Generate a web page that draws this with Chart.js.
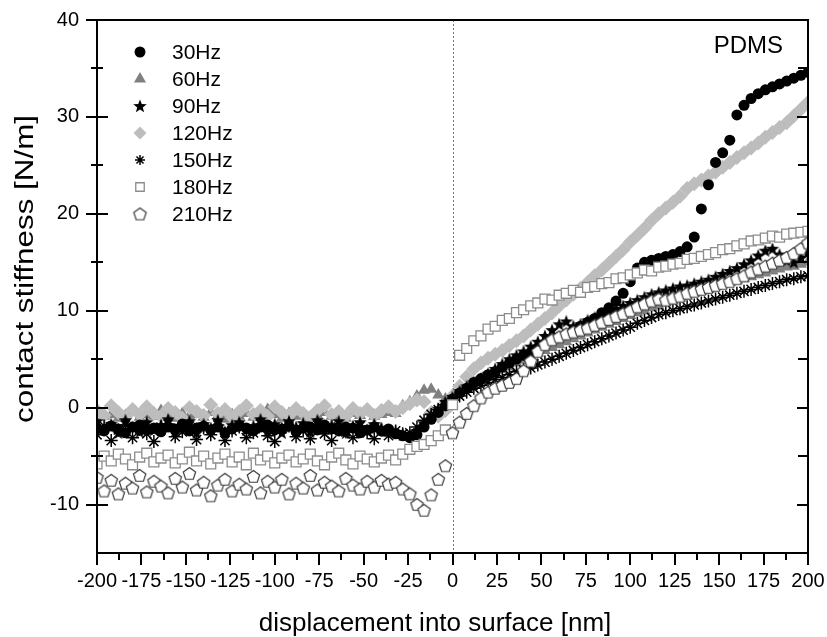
<!DOCTYPE html>
<html>
<head>
<meta charset="utf-8">
<script src="https://cdn.jsdelivr.net/npm/chart.js@4.4.0/dist/chart.umd.min.js"></script>
<style>
  html, body { margin: 0; padding: 0; background: #fff; }
  #wrap { width: 827px; height: 637px; position: relative; }
</style>
</head>
<body>
<div id="wrap"><canvas id="chart"></canvas></div>
<script>
// displacement into surface [nm]
const xs = [
  -200,-196,-192,-188,-184,-180,-176,-172,-168,-164,
  -160,-156,-152,-148,-144,-140,-136,-132,-128,-124,
  -120,-116,-112,-108,-104,-100,-96,-92,-88,-84,
  -80,-76,-72,-68,-64,-60,-56,-52,-48,-44,
  -40,-36,-32,-28,-24,-20,-16,-12,-8,-4,
  0,4,8,12,16,20,24,28,32,36,
  40,44,48,52,56,60,64,68,72,76,
  80,84,88,92,96,100,104,108,112,116,
  120,124,128,132,136,140,144,148,152,156,
  160,164,168,172,176,180,184,188,192,196,
  200
];

// contact stiffness [N/m] per frequency
const hz30 = [
  -2.1,-2.4,-1.9,-2.2,-2.6,-2.0,-1.8,-2.3,-2.1,-2.5,
  -2.0,-2.2,-1.7,-2.4,-2.1,-1.9,-2.3,-2.0,-2.6,-2.2,
  -1.9,-2.1,-2.4,-2.0,-1.8,-2.3,-2.2,-1.9,-2.5,-2.1,
  -2.0,-2.3,-1.8,-2.2,-2.4,-2.0,-2.1,-2.6,-2.3,-2.0,
  -2.4,-2.2,-2.7,-2.9,-3.1,-2.8,-2.0,-1.2,-0.5,0.2,
  0.9,1.5,2.0,2.6,3.0,3.4,3.7,4.2,4.6,5.0,
  5.4,5.7,6.2,6.6,7.0,7.3,7.6,8.0,8.4,8.8,
  9.2,9.8,10.3,11.0,11.8,13.0,14.4,15.0,15.2,15.4,
  15.6,15.8,16.1,16.6,17.6,20.5,23.0,25.3,26.3,27.6,
  30.2,31.2,31.9,32.4,32.8,33.1,33.4,33.7,34.0,34.3,
  34.6
];
const hz60 = [
  -0.5,-0.9,-0.7,-1.1,-0.8,-0.4,-1.0,-0.7,-0.9,-0.3,
  -0.8,-1.1,-0.6,-0.9,-0.7,-1.0,-0.5,-0.8,-1.2,-0.7,
  -0.9,-0.6,-1.0,-0.8,-0.2,-0.7,-1.1,-0.6,-0.9,-0.7,
  -1.0,-0.8,-0.5,-0.9,-0.7,-1.1,-0.6,-0.8,-0.4,-0.9,
  -0.7,-0.5,-0.6,0.2,0.6,1.2,1.8,1.9,1.3,0.9,
  1.3,1.6,2.0,2.4,2.8,3.1,3.5,3.9,4.2,4.6,
  4.9,5.2,5.6,5.9,6.2,6.5,6.8,7.1,7.4,7.7,
  8.0,8.3,8.6,8.9,9.2,9.5,9.8,10.0,10.3,10.5,
  10.8,11.0,11.3,11.5,11.8,12.0,12.2,12.5,12.7,12.9,
  13.1,13.3,13.5,13.7,13.9,14.1,14.3,14.5,14.6,14.8,
  15.0
];
const hz90 = [
  -1.4,-2.2,-1.7,-2.6,-1.3,-2.0,-2.5,-1.5,-2.3,-1.8,
  -1.2,-2.4,-1.9,-1.4,-2.6,-1.7,-2.1,-1.3,-2.5,-1.8,
  -1.5,-2.3,-1.9,-1.2,-2.4,-1.7,-2.6,-1.4,-2.0,-1.6,
  -2.5,-1.3,-2.2,-1.8,-1.4,-2.6,-1.9,-1.5,-2.3,-1.7,
  -2.1,-2.4,-2.5,-2.8,-2.9,-2.4,-1.6,-0.8,-0.1,0.6,
  1.1,1.7,2.2,2.6,3.0,3.5,4.0,4.5,5.0,5.4,
  5.8,6.3,6.8,7.4,8.0,8.6,8.9,8.4,8.6,9.0,
  9.3,9.6,9.9,10.2,10.5,10.8,11.1,11.4,11.7,11.9,
  12.1,12.3,12.5,12.6,12.8,13.0,13.2,13.5,13.8,14.1,
  14.4,14.8,15.2,15.7,16.2,16.4,15.8,15.2,15.0,15.5,
  16.0
];
const hz120 = [
  -0.3,-0.8,0.2,-0.5,-1.0,-0.2,-0.7,0.1,-0.6,-0.9,
  -0.1,-0.5,-1.1,0.0,-0.4,-0.8,0.3,-0.6,-0.2,-1.0,
  -0.4,0.2,-0.7,-0.3,-0.9,0.1,-0.5,-0.8,-0.1,-0.6,
  -1.0,-0.3,0.2,-0.7,-0.4,-0.9,-0.1,-0.6,-0.2,-0.8,
  -0.3,0.1,-0.4,0.0,0.4,0.8,0.6,-0.5,-0.9,-0.3,
  1.2,2.2,3.2,4.0,4.6,5.1,5.5,5.9,6.4,6.9,
  7.4,8.0,8.6,9.2,9.8,10.5,11.1,11.7,12.3,12.9,
  13.6,14.2,14.9,15.6,16.3,17.1,17.8,18.5,19.3,20.0,
  20.6,21.2,21.8,22.6,23.1,23.5,23.9,24.3,24.8,25.3,
  25.8,26.3,26.8,27.3,27.9,28.4,28.9,29.4,30.1,30.8,
  31.5
];
const hz150 = [
  -2.8,-1.9,-3.4,-2.3,-1.8,-3.1,-2.2,-2.7,-3.5,-2.0,
  -1.7,-3.0,-2.5,-1.9,-3.3,-2.1,-2.8,-1.8,-3.4,-2.4,
  -2.0,-3.1,-2.6,-1.7,-2.9,-3.5,-2.2,-1.9,-3.0,-2.4,
  -3.2,-1.8,-2.7,-3.4,-2.0,-2.5,-3.1,-1.9,-2.6,-3.2,
  -2.3,-2.9,-2.4,-2.7,-2.6,-2.0,-1.3,-0.7,-0.2,0.3,
  0.8,1.2,1.6,2.0,2.3,2.6,2.9,3.1,3.4,3.7,
  3.9,4.1,4.4,4.7,5.0,5.3,5.6,5.9,6.2,6.5,
  6.8,7.1,7.4,7.7,8.0,8.3,8.7,9.0,9.3,9.6,
  9.8,10.0,10.2,10.4,10.6,10.8,11.0,11.2,11.4,11.6,
  11.8,12.0,12.2,12.4,12.6,12.8,13.0,13.2,13.3,13.5,
  13.6
];
const hz180 = [
  -5.8,-5.0,-5.5,-4.8,-5.3,-5.9,-5.1,-4.7,-5.6,-5.2,
  -4.9,-5.7,-5.3,-4.6,-5.5,-5.0,-5.8,-5.2,-4.8,-5.6,
  -5.1,-5.9,-4.7,-5.4,-5.0,-5.7,-5.2,-4.9,-5.6,-5.3,
  -4.8,-5.5,-5.9,-5.1,-4.7,-5.4,-5.8,-5.0,-5.3,-5.6,
  -5.2,-4.9,-5.4,-4.8,-4.3,-4.0,-3.8,-3.4,-2.9,-2.3,
  0.3,5.4,6.1,6.9,7.4,8.1,8.4,9.0,9.2,9.8,
  10.1,10.5,10.8,11.2,11.1,11.6,11.8,12.1,11.9,12.4,
  12.5,12.8,12.9,13.3,13.4,13.7,13.9,14.2,14.1,14.5,
  14.6,14.8,14.9,15.3,15.4,15.6,15.8,16.0,16.3,16.4,
  16.7,16.9,17.2,17.3,17.5,17.7,17.6,17.9,18.0,18.1,
  18.2
];
const hz210 = [
  -7.2,-8.6,-7.5,-8.9,-7.8,-8.3,-7.0,-8.7,-7.6,-8.1,
  -8.8,-7.3,-8.2,-6.8,-8.5,-7.7,-9.1,-8.0,-7.4,-8.6,
  -7.9,-8.4,-7.1,-8.8,-7.6,-8.2,-7.4,-8.9,-7.8,-8.3,
  -7.0,-8.5,-7.7,-8.1,-8.6,-7.3,-8.0,-8.4,-7.6,-8.2,
  -7.5,-7.9,-7.7,-8.4,-8.9,-10.0,-10.6,-9.0,-7.4,-6.0,
  -2.6,-1.5,-0.6,0.2,1.0,1.6,2.0,2.3,2.6,3.0,
  3.8,4.8,5.8,6.5,7.0,7.3,7.6,7.8,8.0,8.2,
  8.5,8.8,9.1,9.4,9.7,10.0,10.4,10.7,11.0,11.2,
  11.1,11.3,11.5,11.8,12.0,12.2,12.4,12.6,12.8,13.0,
  13.3,13.6,14.0,14.3,14.6,14.9,15.2,15.5,15.9,16.4,
  17.0
];

const labels = ['30Hz', '60Hz', '90Hz', '120Hz', '150Hz', '180Hz', '210Hz'];
const xTicks = [-200,-175,-150,-125,-100,-75,-50,-25,0,25,50,75,100,125,150,175,200];
const yTicks = [-10, 0, 10, 20, 30, 40];
const yMinor = [-5, 5, 15, 25, 35];
const xTitle = 'displacement into surface [nm]';
const yTitle = 'contact stiffness [N/m]';
const sample = 'PDMS';

const FONT = '"Liberation Sans", Arial, sans-serif';

// filled 5-point star for 90Hz
function makeStar(r) {
    const s = Math.ceil(2 * r + 2);
    const c = document.createElement('canvas');
    c.width = s; c.height = s;
    const g = c.getContext('2d');
    g.beginPath();
    for (let k = 0; k < 10; k++) {
        const a = -Math.PI / 2 + k * Math.PI / 5;
        const rr = k % 2 === 0 ? r : r * 0.42;
        const px = s / 2 + rr * Math.cos(a), py = s / 2 + 0.5 + rr * Math.sin(a);
        if (k === 0) g.moveTo(px, py); else g.lineTo(px, py);
    }
    g.closePath();
    g.fillStyle = '#000';
    g.fill();
    return c;
}

// open pentagon for 210Hz
function makePentagon(r) {
    const s = Math.ceil(2 * r + 4);
    const c = document.createElement('canvas');
    c.width = s; c.height = s;
    const g = c.getContext('2d');
    g.beginPath();
    for (let k = 0; k < 5; k++) {
        const a = -Math.PI / 2 + k * 2 * Math.PI / 5;
        const px = s / 2 + r * Math.cos(a), py = s / 2 + r * Math.sin(a) + 0.5;
        if (k === 0) g.moveTo(px, py); else g.lineTo(px, py);
    }
    g.closePath();
    g.fillStyle = '#fff';
    g.fill();
    g.lineWidth = 1.2;
    g.strokeStyle = '#3a3a3a';
    g.stroke();
    return c;
}

const starImg = makeStar(7);
const pentImg = makePentagon(6.5);
const pts = arr => xs.map((x, i) => ({ x: x, y: arr[i] }));

// order: lower number is drawn on top
const datasets = [
    { label: labels[0], data: pts(hz30), pointStyle: 'circle', pointRadius: 5.5, backgroundColor: '#000', borderColor: '#000', borderWidth: 0, order: 4 },
    { label: labels[1], data: pts(hz60), pointStyle: 'triangle', pointRadius: 7, backgroundColor: '#808080', borderColor: '#808080', borderWidth: 0, order: 6 },
    { label: labels[2], data: pts(hz90), pointStyle: starImg, pointRadius: 6, backgroundColor: '#000', borderColor: '#000', borderWidth: 0, order: 3 },
    { label: labels[3], data: pts(hz120), pointStyle: 'rectRot', pointRadius: 7.5, backgroundColor: '#bdbdbd', borderColor: '#bdbdbd', borderWidth: 0, order: 5 },
    { label: labels[4], data: pts(hz150), pointStyle: 'star', pointRadius: 6.5, backgroundColor: '#000', borderColor: '#000', borderWidth: 1.5, order: 2 },
    { label: labels[5], data: pts(hz180), pointStyle: 'rect', pointRadius: 7, backgroundColor: '#fff', borderColor: '#8c8c8c', borderWidth: 1.3, order: 1 },
    { label: labels[6], data: pts(hz210), pointStyle: pentImg, pointRadius: 6, backgroundColor: '#fff', borderColor: '#3a3a3a', borderWidth: 1.2, order: 0 }
];

// dotted line at zero displacement
const zeroLine = {
    id: 'zeroLine',
    beforeDatasetsDraw(chart) {
        const { ctx, chartArea, scales } = chart;
        const x0 = Math.round(scales.x.getPixelForValue(0));
        ctx.save();
        ctx.strokeStyle = '#777';
        ctx.lineWidth = 1;
        ctx.setLineDash([2, 2]);
        ctx.beginPath();
        ctx.moveTo(x0 + 0.5, chartArea.top);
        ctx.lineTo(x0 + 0.5, chartArea.bottom);
        ctx.stroke();
        ctx.restore();
    }
};

// frame, tick marks, titles, legend and sample label
const frame = {
    id: 'frame',
    afterDraw(chart) {
        const { ctx, chartArea: a, scales } = chart;
        const sx = scales.x, sy = scales.y;
        ctx.save();
        ctx.strokeStyle = '#000';
        ctx.lineWidth = 2;
        ctx.beginPath();
        ctx.rect(a.left, a.top, a.right - a.left, a.bottom - a.top);
        ctx.stroke();

        ctx.beginPath();
        yTicks.forEach(v => {
            const py = Math.round(sy.getPixelForValue(v));
            ctx.moveTo(a.left - 11, py); ctx.lineTo(a.left + 11, py);
            ctx.moveTo(a.right - 11, py); ctx.lineTo(a.right, py);
        });
        yMinor.forEach(v => {
            const py = Math.round(sy.getPixelForValue(v));
            ctx.moveTo(a.left - 6, py); ctx.lineTo(a.left + 6, py);
            ctx.moveTo(a.right - 10, py); ctx.lineTo(a.right, py);
        });
        xTicks.forEach((v, i) => {
            const px = Math.round(sx.getPixelForValue(v));
            ctx.moveTo(px, a.bottom); ctx.lineTo(px, a.bottom + 12);
            if (i < xTicks.length - 1) {
                const pm = Math.round(sx.getPixelForValue(v + 12.5));
                ctx.moveTo(pm, a.bottom); ctx.lineTo(pm, a.bottom + 7);
            }
        });
        ctx.stroke();

        // axis titles
        ctx.fillStyle = '#000';
        ctx.font = '26px ' + FONT;
        ctx.textAlign = 'center';
        ctx.textBaseline = 'alphabetic';
        ctx.fillText(xTitle, 435, 631);

        ctx.save();
        ctx.translate(26, 269);
        ctx.rotate(-Math.PI / 2);
        ctx.font = '25px ' + FONT;
        const w = ctx.measureText(yTitle).width;
        ctx.scale(308 / w, 1);
        ctx.textBaseline = 'middle';
        ctx.fillText(yTitle, 0, 0);
        ctx.restore();

        // legend
        const h = Chart.helpers;
        const legendSizes = [5.5, 7, 6, 6.5, 5, 6, 6];
        chart.data.datasets.forEach((ds, i) => {
            const ly = 52 + i * 27;
            ctx.fillStyle = ds.backgroundColor;
            ctx.strokeStyle = ds.borderColor;
            ctx.lineWidth = ds.borderWidth;
            h.drawPoint(ctx, { pointStyle: ds.pointStyle, radius: legendSizes[i], rotation: 0, borderWidth: ds.borderWidth }, 140, ly);
            ctx.fillStyle = '#000';
            ctx.font = '21px ' + FONT;
            ctx.textBaseline = 'alphabetic';
            ctx.textAlign = 'left';
            ctx.fillText(ds.label, 172, ly + 6.5);
        });

        ctx.font = '24px ' + FONT;
        ctx.textAlign = 'right';
        ctx.fillText(sample, 783, 53);
        ctx.restore();
    }
};

const noPad = s => { s.paddingLeft = 0; s.paddingRight = 0; s.paddingTop = 0; s.paddingBottom = 0; };

new Chart(document.getElementById('chart'), {
    type: 'scatter',
    data: { datasets: datasets },
    options: {
        responsive: true,
        maintainAspectRatio: false,
        animation: false,
        events: [],
        layout: { padding: { top: 20, right: 19, left: 0, bottom: 0 } },
        plugins: { legend: { display: false }, tooltip: { enabled: false } },
        scales: {
            x: {
                type: 'linear',
                min: -200,
                max: 200,
                grid: { display: false, drawTicks: false },
                border: { display: false },
                afterBuildTicks: s => { s.ticks = xTicks.map(v => ({ value: v })); },
                afterFit: s => { s.height = 84; noPad(s); },
                ticks: {
                    autoSkip: false,
                    maxRotation: 0,
                    minRotation: 0,
                    padding: 16,
                    color: '#000',
                    font: { family: FONT, size: 20 },
                    callback: v => String(v)
                }
            },
            y: {
                type: 'linear',
                min: -15,
                max: 40,
                grid: { display: false, drawTicks: false },
                border: { display: false },
                afterBuildTicks: s => { s.ticks = yTicks.map(v => ({ value: v })); },
                afterFit: s => { s.width = 97; noPad(s); },
                ticks: {
                    padding: 18,
                    color: '#000',
                    font: { family: FONT, size: 20 },
                    callback: v => String(v)
                }
            }
        }
    },
    plugins: [zeroLine, frame]
});
</script>
</body>
</html>
